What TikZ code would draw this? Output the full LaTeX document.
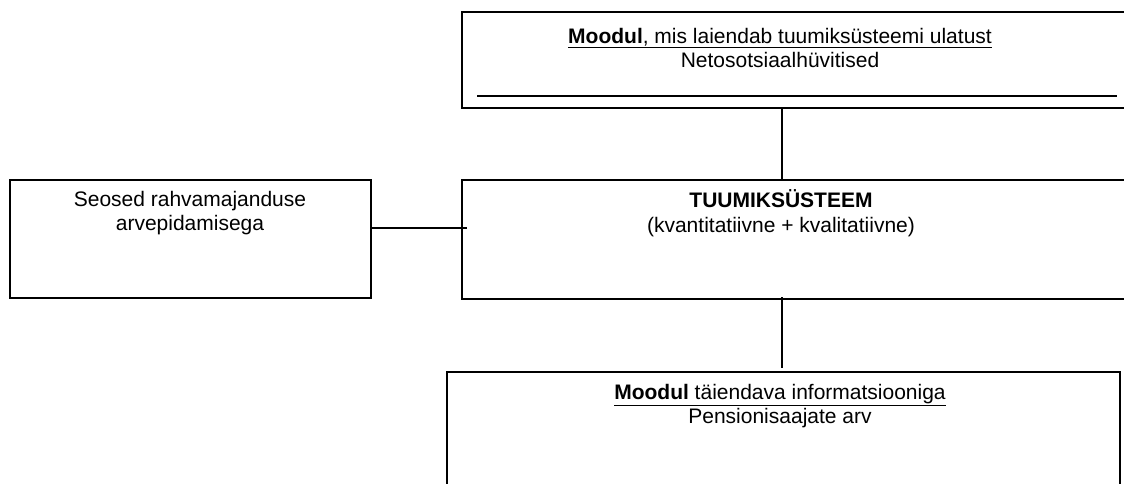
\documentclass[tikz,border=0pt]{standalone}
\usepackage{fontspec}
\setmainfont{Liberation Sans}
\usetikzlibrary{positioning, calc}

\begin{document}
\begin{tikzpicture}[x=1pt, y=-1pt, font=\fontsize{21}{24.5}\selectfont,
        box/.style={draw, line width=2pt, rectangle, anchor=north west, inner sep=0pt},
        txt/.style={align=center, inner sep=0pt},
        link/.style={line width=1.7pt}]
        \useasboundingbox (0,0) rectangle (1124,484);
        \clip (0,0) rectangle (1124,484);

        \node[box, minimum width=669pt, minimum height=96pt]   (modul)  at (461,11)  {};
        \node[box, minimum width=669pt, minimum height=119pt]  (tuum)   at (461,179) {};
        \node[box, minimum width=361pt, minimum height=118pt]  (seosed) at (9,179)   {};
        \node[box, minimum width=673pt, minimum height=140pt]  (lisa)   at (446,371) {};

        \node[txt] (modultxt)  at (780,48)  {\underline{\textbf{Moodul}, mis laiendab tuumiksüsteemi ulatust}\\Netosotsiaalhüvitised};
        \node[txt] (tuumtxt)   at (781,213) {\textbf{TUUMIKSÜSTEEM}\\(kvantitatiivne + kvalitatiivne)};
        \node[txt] (seosedtxt) at (190,213) {Seosed rahvamajanduse\\arvepidamisega};
        \node[txt] (lisatxt)   at (780,406) {\underline{\textbf{Moodul} täiendava informatsiooniga}\\Pensionisaajate arv};

        \coordinate (joon1) at (477,96);
        \coordinate (joon2) at (1117,96);
        \coordinate (telg) at (782,0);
        \coordinate (vasak) at ($(seosed.north east)!0.41!(seosed.south east)$);

        \draw[line width=2pt] (joon1) -- (joon2);
        \draw[link] (modul.south -| telg) -- (tuum.north -| telg);
        \draw[link] (vasak) -- ($(vasak -| tuum.west) + (6,0)$);
        \draw[link] ($(tuum.south -| telg) + (0,-3)$) -- ($(lisa.north -| telg) + (0,-3)$);
\end{tikzpicture}
\end{document}
